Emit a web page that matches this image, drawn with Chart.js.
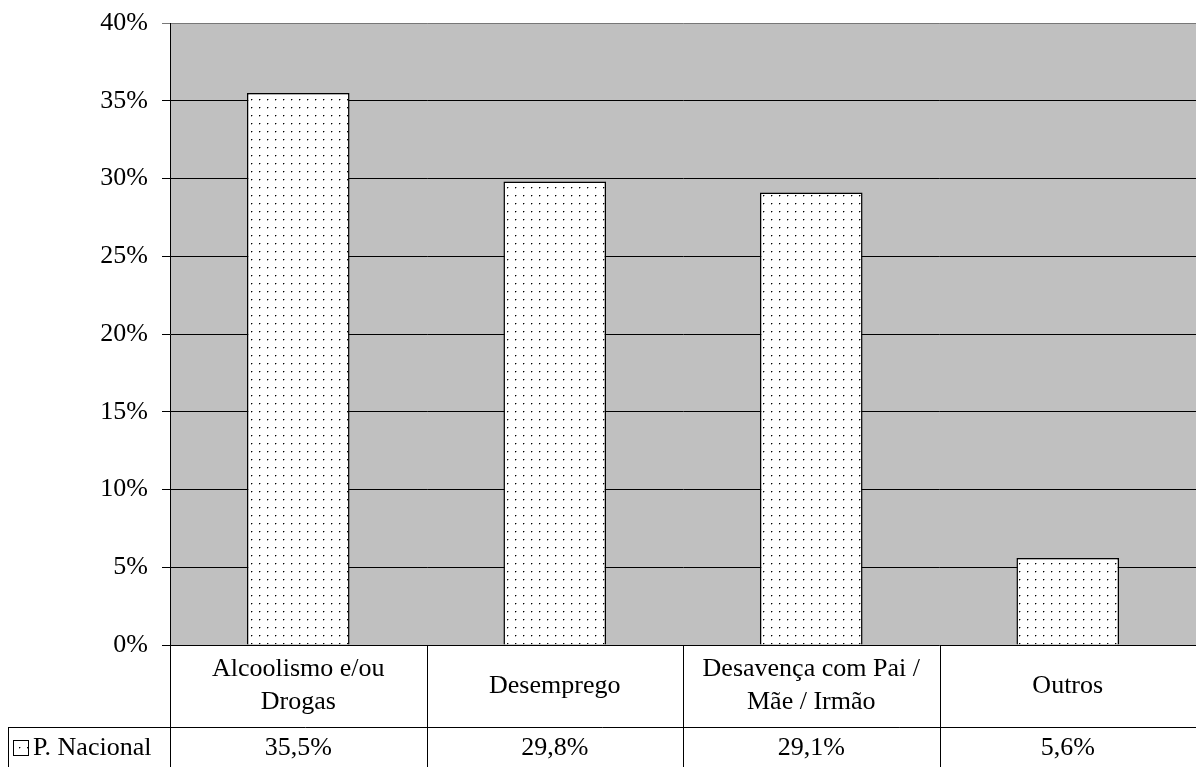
<!DOCTYPE html>
<html lang="pt">
<head>
  <meta charset="UTF-8">
  <title>P. Nacional</title>
  <script src="https://cdn.jsdelivr.net/npm/chart.js"></script>
  <style>
    * { margin: 0; padding: 0; box-sizing: border-box; }
    body { background: #fff; width: 1196px; height: 767px; overflow: hidden; }
    #wrap { position: relative; width: 1196px; height: 767px; }
  </style>
</head>
<body>
  <div id="wrap"><canvas id="chart"></canvas></div>

  <script>
    // Data
    const categories = [['Alcoolismo e/ou', 'Drogas'], ['Desemprego'], ['Desavença com Pai /', 'Mãe / Irmão'], ['Outros']];
    const seriesName = 'P. Nacional';
    const values = [35.5, 29.8, 29.1, 5.6];
    const yTicks = [0, 5, 10, 15, 20, 25, 30, 35, 40];

    const FONT = '"Liberation Serif", "Times New Roman", serif';
    const fmt = v => v.toFixed(1).replace('.', ',') + '%';

    // dotted fill like the old office pattern
    function dotPattern() {
      const c = document.createElement('canvas');
      c.width = 8; c.height = 8;
      const g = c.getContext('2d');
      g.fillStyle = '#fff';
      g.fillRect(0, 0, 8, 8);
      g.fillStyle = '#000';
      g.fillRect(3, 3, 1, 1);
      g.fillStyle = 'rgba(0,0,0,0.35)';
      g.fillRect(4, 3, 1, 1);
      g.fillRect(3, 4, 1, 1);
      return g.createPattern(c, 'repeat');
    }

    const plotBg = {
      id: 'plotBg',
      beforeDraw(chart) {
        const { ctx, chartArea: a } = chart;
        ctx.save();
        ctx.fillStyle = '#c0c0c0';
        ctx.fillRect(a.left, a.top, a.right - a.left, a.bottom - a.top);
        ctx.restore();
      }
    };

    // data table under the plot
    const dataTable = {
      id: 'dataTable',
      afterDraw(chart) {
        const { ctx, chartArea: a, scales: { x } } = chart;
        const H = chart.height;
        const rowY = 727;
        const step = (a.right - a.left) / categories.length;
        ctx.save();
        ctx.strokeStyle = '#000';
        ctx.lineWidth = 1;
        ctx.beginPath();
        for (let i = 0; i < categories.length; i++) {
          const bx = Math.round(x.getPixelForValue(i) - step / 2) + 0.5;
          ctx.moveTo(bx, a.bottom);
          ctx.lineTo(bx, H);
        }
        ctx.moveTo(8.5, rowY + 0.5);
        ctx.lineTo(a.right, rowY + 0.5);
        ctx.moveTo(8.5, rowY);
        ctx.lineTo(8.5, H);
        ctx.stroke();

        ctx.fillStyle = '#000';
        ctx.font = '26px ' + FONT;
        ctx.textAlign = 'center';
        ctx.textBaseline = 'middle';
        const midCat = (a.bottom + rowY) / 2;
        categories.forEach((lines, i) => {
          const cx = x.getPixelForValue(i);
          const lh = 33;
          lines.forEach((t, k) => {
            ctx.fillText(t, cx, midCat + (k - (lines.length - 1) / 2) * lh);
          });
          ctx.fillText(fmt(values[i]), cx, (rowY + H) / 2 + 1);
        });

        // legend key
        ctx.fillStyle = dotPattern();
        ctx.fillRect(13, 740, 16, 16);
        ctx.strokeStyle = '#000';
        ctx.strokeRect(13.5, 740.5, 15, 15);
        ctx.fillStyle = '#000';
        ctx.textAlign = 'left';
        ctx.fillText(seriesName, 33, (rowY + H) / 2 + 1);
        ctx.restore();
      }
    };

    new Chart(document.getElementById('chart'), {
      type: 'bar',
      data: {
        labels: categories,
        datasets: [{
          label: seriesName,
          data: values,
          backgroundColor: dotPattern(),
          borderColor: '#000',
          borderWidth: 1.5,
          borderSkipped: 'bottom',
          categoryPercentage: 1,
          barPercentage: 0.4
        }]
      },
      options: {
        responsive: true,
        maintainAspectRatio: false,
        animation: false,
        layout: { padding: { top: 23, right: 0, bottom: 122, left: 0 } },
        plugins: { legend: { display: false }, tooltip: { enabled: false } },
        scales: {
          x: {
            display: false,
            grid: { display: false }
          },
          y: {
            min: 0,
            max: 40,
            afterFit(s) { s.width = 170; s.paddingTop = 0; s.paddingBottom = 0; },
            afterBuildTicks(s) { s.ticks = yTicks.map(v => ({ value: v })); },
            border: { color: '#000', width: 1 },
            grid: {
              color: ctx => ctx.tick && ctx.tick.value === 40 ? '#777' : '#000',
              lineWidth: 1,
              tickLength: 8,
              drawTicks: true
            },
            ticks: {
              color: '#000',
              padding: 14,
              font: { family: FONT, size: 26 },
              callback: v => v + '%'
            }
          }
        }
      },
      plugins: [plotBg, dataTable]
    });
  </script>
</body>
</html>
